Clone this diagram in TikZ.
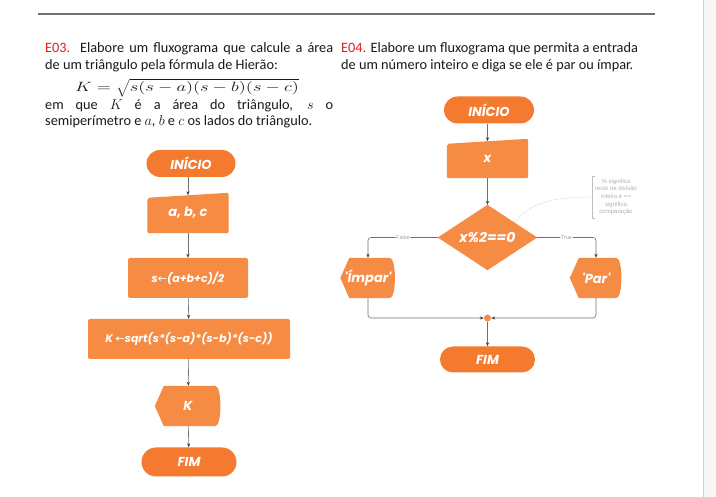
\RequirePackage{fix-cm}
\documentclass[tikz,border=0pt]{standalone}
\usepackage{fontspec}
\usepackage{graphicx}
\setmainfont{Carlito}
\newfontfamily\nodefont[Ligatures=TeXOff]{Poppins}
\newfontfamily\notefont{Liberation Sans}
\newfontfamily\symfont{DejaVu Sans}
\usetikzlibrary{shapes.misc, arrows.meta, backgrounds, calc}
\definecolor{termc}{HTML}{F37A2E}
\definecolor{procc}{HTML}{F68B44}
\definecolor{linec}{HTML}{707070}
\definecolor{redc}{HTML}{E02020}
\definecolor{txtc}{HTML}{1A1A1A}
\tikzset{
  basen/.style={font=\nodefont\fontsize{13}{15}\selectfont\bfseries\itshape, text=white, inner sep=0pt},
  term/.style={basen, rounded rectangle, fill=termc},
  proc/.style={basen, font=\nodefont\fontsize{11}{13}\selectfont\bfseries\itshape, rectangle, rounded corners=2pt, fill=procc},
  ghost/.style={basen, rectangle},
  conn/.style={draw=linec, line width=0.6pt, -{Stealth[length=4pt,width=3.2pt,color=black!75]}},
  lab/.style={font=\notefont\fontsize{5.5}{6}\selectfont, text=gray!75, fill=white, inner sep=0.8pt},
  para/.style={anchor=base west, inner sep=0pt, text=txtc, font=\fontsize{14.3}{17}\selectfont},
}
\begin{document}
\begin{tikzpicture}[x=1pt, y=-1pt]
\useasboundingbox (0,0) rectangle (716,497);
% page decorations
\draw[line width=2pt, linec] (38,14) -- (655,14);

% E03 text
\node[para] (t1) at (45,53) {\makebox[288pt][s]{\textcolor{redc}{E03.} Elabore um fluxograma que calcule a área}};
\node[para] (t2) at (45,70) {de um triângulo pela fórmula de Hierão:};
\node[para, anchor=base, font=\fontsize{13.5}{15}\selectfont] (t3) at (187,91.5) {\scalebox{1.37}[1]{$K=\sqrt{s(s-a)(s-b)(s-c)}$}};
\node[para] (t4) at (45,110) {\makebox[288pt][s]{em que $K$ é a área do triângulo, $s$ o}};
\node[para] (t5) at (45,126) {semiperímetro e $a$, $b$ e $c$ os lados do triângulo.};
% E04 text
\node[para] (u1) at (341,53) {\textcolor{redc}{E04.} Elabore um fluxograma que permita a entrada};
\node[para] (u2) at (341,70) {de um número inteiro e diga se ele é par ou ímpar.};

% Left flowchart
\node[term, minimum width=89pt, minimum height=27pt] (i1) at (191,163.5) {INÍCIO};
\node[ghost, minimum width=81pt, minimum height=40pt] (a1) at (188,213) {a, b, c};
\node[proc, minimum width=120pt, minimum height=40pt] (s1) at (188,278) {s{\symfont\mdseries ←}(a+b+c)/2};
\node[proc, minimum width=202pt, minimum height=40pt] (k1) at (189,339) {K {\symfont\mdseries ←}sqrt(s*(s-a)*(s-b)*(s-c))};
\node[ghost, minimum width=66pt, minimum height=40pt] (d1) at (188,406) {K};
\node[term, minimum width=95pt, minimum height=29pt] (f1) at (189,462) {FIM};

% Right flowchart
\node[term, minimum width=90pt, minimum height=27pt] (i2) at (489,110) {INÍCIO};
\node[ghost, minimum width=81pt, minimum height=39pt] (x2) at (487.5,158.5) {x};
\node[ghost, font=\nodefont\fontsize{14}{16}\selectfont\bfseries\itshape, minimum width=99pt, minimum height=65pt] (dm) at (487.5,237.5) {x\%2==0};
\node[ghost, minimum width=55pt, minimum height=40pt] (im) at (368,278) {'Ímpar'};
\node[ghost, minimum width=52pt, minimum height=40pt] (pr) at (596,278) {'Par'};
\node[circle, fill=procc, inner sep=0pt, minimum size=7pt] (jn) at (487.5,318) {};
\node[term, minimum width=95pt, minimum height=26pt] (f2) at (487.5,359.5) {FIM};
\node[font=\notefont\fontsize{6}{7.6}\selectfont, text=gray!60, align=center, inner sep=0pt,
      minimum width=48pt, minimum height=42pt] (nt) at (616,197)
      {\% significa\\resto da divisão\\inteira e ==\\significa\\comparação};

% custom shapes and page background
\begin{pgfonlayer}{background}
\fill[white] (0,0) rectangle (716,497);
\fill[gray!6] (703,0) rectangle (716,497);
\draw[gray!35] (703,0) -- (703,497);
\fill[procc, rounded corners=2pt] ($(a1.north west)+(0,5)$) -- (a1.north east) -- (a1.south east) -- (a1.south west) -- cycle;
\fill[procc, rounded corners=2pt] ($(x2.north west)+(0,5)$) -- (x2.north east) -- (x2.south east) -- (x2.south west) -- cycle;
\fill[procc] (dm.north) -- (dm.east) -- (dm.south) -- (dm.west) -- cycle;
\foreach \n in {d1,im,pr}{
  \fill[procc] (\n.west) -- ($(\n.north west)+(9,0)$) -- ($(\n.north east)+(-6,0)$)
     .. controls ($(\n.north east)+(1,0)$) and ($(\n.south east)+(1,0)$) .. ($(\n.south east)+(-6,0)$)
     -- ($(\n.south west)+(9,0)$) -- cycle;
}
\end{pgfonlayer}

% connectors left
\draw[conn] (i1.south -| a1.north) -- ($(a1.north)+(0,2.5)$);
\draw[conn] (a1) -- (s1);
\draw[conn] (s1) -- (k1);
\draw[conn] (k1) -- (d1);
\draw[conn] (d1) -- (f1);

% connectors right
\draw[conn] (i2.south -| x2.north) -- ($(x2.north)+(0,2.5)$);
\draw[conn] (x2) -- (dm.north);
\draw[conn, rounded corners=3pt] (dm.west) -- node[lab] {False} (dm.west -| im.north) -- (im.north);
\draw[conn, rounded corners=3pt] (dm.east) -- node[lab] {True} (dm.east -| pr.north) -- (pr.north);
\draw[conn, rounded corners=3pt] (im.south) |- (jn.west);
\draw[conn, rounded corners=3pt] (pr.south) |- (jn.east);
\draw[conn] (jn) -- (f2);

% annotation
\draw[gray!50, line width=0.5pt] ($(nt.north west)+(3,0)$) -- (nt.north west) -- (nt.south west) -- ($(nt.south west)+(3,0)$);
\coordinate (dmne) at ($(dm.north)!0.55!(dm.east)$);
\draw[gray!60, line width=0.5pt, densely dotted] (dmne) .. controls (528,205) and (548,197) .. (nt.west);
\end{tikzpicture}
\end{document}
